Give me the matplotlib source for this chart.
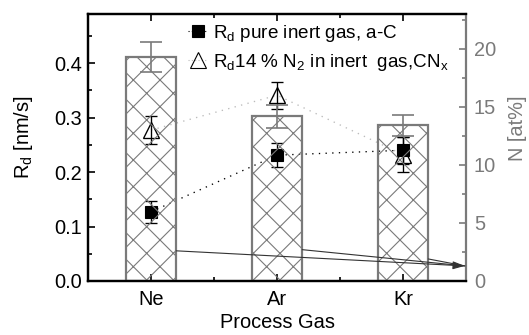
import matplotlib
matplotlib.use("Agg")
import matplotlib.pyplot as plt
from matplotlib.lines import Line2D
import numpy as np

plt.rcParams["font.family"] = "Liberation Sans"
plt.rcParams["mathtext.fontset"] = "custom"
plt.rcParams["mathtext.rm"] = "Liberation Sans"
plt.rcParams["mathtext.it"] = "Liberation Sans:italic"
plt.rcParams["mathtext.default"] = "regular"
plt.rcParams["hatch.linewidth"] = 1.0

# ---- data ----
GASES = ["Ne", "Ar", "Kr"]
N_AT = [19.3, 14.2, 13.4]            # bars, right axis [at%]
N_AT_ERR = [1.3, 1.0, 0.9]
RD_PURE = [0.127, 0.231, 0.240]      # squares, left axis [nm/s]
RD_PURE_ERR = [0.020, 0.022, 0.025]
RD_N2 = [0.277, 0.341, 0.232]        # triangles, left axis [nm/s]
RD_N2_ERR = [0.026, 0.025, 0.032]

GRAY = "#7a7a7a"
DPI = 80

fig = plt.figure(figsize=(529 / DPI, 335 / DPI), dpi=DPI)
ax1 = fig.add_axes([0.1664, 0.1612, 0.7146, 0.7968])
ax2 = ax1.twinx()

x = np.arange(len(GASES))

# squares / triangles on the left axis
ax1.plot(x, RD_N2, linestyle=(0, (1, 4)), color="#bbbbbb", linewidth=1.2, zorder=1)
ax1.plot(x, RD_PURE, linestyle=(0, (1, 4)), color="black", linewidth=1.2, zorder=1)
ax1.errorbar(x, RD_N2, yerr=RD_N2_ERR, fmt="^", ms=14, mfc="none", mec="black",
             mew=1.2, ecolor="black", elinewidth=1.2, capsize=5, capthick=1.2, zorder=2)
ax1.errorbar(x, RD_PURE, yerr=RD_PURE_ERR, fmt="s", ms=11, mfc="black", mec="black",
             ecolor="black", elinewidth=1.2, capsize=5, capthick=1.2, zorder=3)

# hatched bars on the right axis
ax2.bar(x, N_AT, width=0.4, facecolor="none", edgecolor=GRAY, linewidth=2,
        hatch="x", zorder=2)
ax2.errorbar(x, N_AT, yerr=N_AT_ERR, fmt="none", ecolor=GRAY, elinewidth=1.5,
             capsize=10, capthick=1.5, zorder=3)

# arrows pointing to the right axis
head = (2.49, 1.3)
ax2.annotate("", xy=head, xytext=(0.2, 2.6),
             arrowprops=dict(arrowstyle="-|>,head_length=0.9,head_width=0.3",
                             color="#333333", lw=1.0, shrinkA=0, shrinkB=0))
for start in [(1.2, 2.7), (2.2, 1.9)]:
    ax2.annotate("", xy=head, xytext=start,
                 arrowprops=dict(arrowstyle="-", color="#333333", lw=1.0,
                                 shrinkA=0, shrinkB=0))

# axes
ax1.set_xlim(-0.5, 2.5)
ax1.set_ylim(0, 0.49)
ax2.set_ylim(0, 23.0)
ax1.set_xticks(x)
ax1.set_xticklabels(GASES)
ax1.set_xticks([0.5, 1.5], minor=True)
ax1.set_yticks([0.0, 0.1, 0.2, 0.3, 0.4])
ax1.set_yticklabels(["0.0", "0.1", "0.2", "0.3", "0.4"])
ax1.set_yticks(np.arange(0.05, 0.49, 0.1), minor=True)
ax2.set_yticks([0, 5, 10, 15, 20])
ax2.set_yticks([2.5, 7.5, 12.5, 17.5, 22.5], minor=True)

ax1.tick_params(axis="both", which="both", direction="in", width=1.5,
                labelsize=18, top=True, right=False)
ax1.tick_params(which="major", length=6)
ax1.tick_params(which="minor", length=4)
ax1.tick_params(axis="x", pad=8)
ax1.tick_params(axis="y", pad=5)
ax2.tick_params(axis="y", which="both", direction="in", colors=GRAY, width=1.5,
                labelsize=18, labelcolor=GRAY, pad=7)
ax2.tick_params(axis="y", which="major", length=6)
ax2.tick_params(axis="y", which="minor", length=4)

for side in ["left", "bottom", "top"]:
    ax1.spines[side].set_linewidth(2)
    ax2.spines[side].set_linewidth(2)
ax2.spines["right"].set_color(GRAY)
ax2.spines["right"].set_linewidth(2)

ax1.set_xlabel("Process Gas", fontsize=18)
ax1.xaxis.set_label_coords(0.5, -0.12)
ax1.set_ylabel("R$_d$ [nm/s]", fontsize=18)
ax1.yaxis.set_label_coords(-0.14, 0.54)
ax2.set_ylabel("N [at%]", fontsize=18, color=GRAY)
ax2.yaxis.set_label_coords(1.11, 0.573)

handles = [
    Line2D([], [], color="black", linestyle=(0, (1, 2)), marker="s", ms=11, lw=1.0),
    Line2D([], [], color="#bbbbbb", linestyle=(0, (1, 2)), marker="^", ms=14,
           mfc="none", mec="black", lw=1.0),
]
labels = ["R$_d$ pure inert gas, a-C", "R$_d$14 % N$_2$ in inert  gas,CN$_x$"]
ax2.legend(handles, labels, loc="upper left", bbox_to_anchor=(0.245, 0.995),
           frameon=False, fontsize=17, handlelength=1.0, handletextpad=0.3,
           labelspacing=0.4, borderaxespad=0)

fig.savefig("out.png", dpi=DPI)
